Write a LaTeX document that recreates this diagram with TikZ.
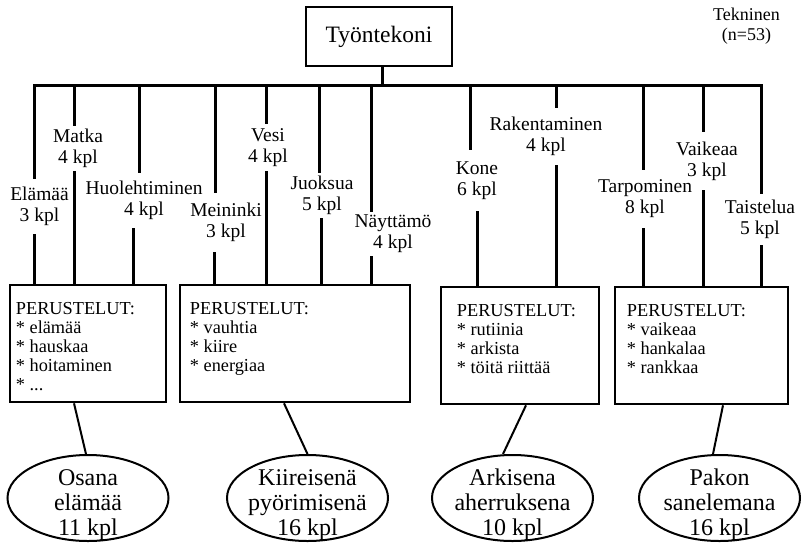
\documentclass[tikz,border=0pt]{standalone}
\usepackage{fontspec}
\setmainfont{Liberation Serif}
\usepackage{tikz}
\usetikzlibrary{positioning, shapes.geometric}

\tikzset{
  stem/.style={line width=3pt, line cap=rect},
  headbox/.style={draw, line width=2.5pt, minimum width=146pt, minimum height=59pt, inner sep=0pt,
    font=\fontsize{23.5}{28}\selectfont},
  reasonbox/.style={draw, line width=2.6pt, inner sep=0pt},
  reasontext/.style={anchor=north west, inner sep=0pt, align=left, font=\fontsize{18.3}{19.2}\selectfont},
  countlabel/.style={inner xsep=0pt, inner ysep=0pt, align=center, font=\fontsize{19.5}{21}\selectfont},
  theme/.style={draw, ellipse, line width=2pt, minimum width=161pt, minimum height=86pt, inner sep=0pt},
  themetext/.style={align=center, inner sep=0pt, yshift=-7pt, font=\fontsize{24}{25}\selectfont},
  link/.style={line width=2pt}
}

\begin{document}
\begin{tikzpicture}[x=1pt, y=-1pt]
  \useasboundingbox (0,0) rectangle (802,544);

  % Top of the tree
  \node[headbox] (boss) at (379,36.5) {Työntekoni};
  \node[align=center, inner sep=0pt, font=\fontsize{18}{20}\selectfont] (group) at (746.5,26) {Tekninen\\(n=53)};

  % Boxes with the reasons
  \node[reasonbox, minimum width=156pt, minimum height=117pt] (b1) at (88,343.5) {};
  \node[reasonbox, minimum width=230pt, minimum height=117pt] (b2) at (295,343.5) {};
  \node[reasonbox, minimum width=158pt, minimum height=117pt] (b3) at (520,345.5) {};
  \node[reasonbox, minimum width=173pt, minimum height=117pt] (b4) at (701.5,345.5) {};

  \node[reasontext] (r1) at ([shift={(7,18)}]b1.north west) {PERUSTELUT:\\* elämää\\* hauskaa\\* hoitaminen\\* ...};
  \node[reasontext] (r2) at ([shift={(11,18)}]b2.north west) {PERUSTELUT:\\* vauhtia\\* kiire\\* energiaa};
  \node[reasontext] (r3) at ([shift={(17,18)}]b3.north west) {PERUSTELUT:\\* rutiinia\\* arkista\\* töitä riittää};
  \node[reasontext] (r4) at ([shift={(13,18)}]b4.north west) {PERUSTELUT:\\* vaikeaa\\* hankalaa\\* rankkaa};

  % Themes
  \node[theme] (o1) at (88,498) {};
  \node[theme] (o2) at (307.5,498) {};
  \node[theme] (o3) at (512.5,498) {};
  \node[theme] (o4) at (719.5,498) {};
  \node[themetext] at (o1) {Osana\\elämää\\11 kpl};
  \node[themetext] at (o2) {Kiireisenä\\pyörimisenä\\16 kpl};
  \node[themetext] at (o3) {Arkisena\\aherruksena\\10 kpl};
  \node[themetext] at (o4) {Pakon\\sanelemana\\16 kpl};

  \draw[link] ([xshift=-14pt]b1.south) -- ([xshift=-2pt]o1.north);
  \draw[link] ([xshift=-11pt]b2.south) -- (o2.north);
  \draw[link] ([xshift=6pt]b3.south) -- ([xshift=-9.5pt]o3.north);
  \draw[link] ([xshift=21.5pt]b4.south) -- ([xshift=-6.5pt]o4.north);

  % Stems with their counts
  \foreach \i/\xt/\xb/\xc/\yc/\h/\bx/\txt in {
      1/34/34/39.5/206.5/57/b1/{Elämää\\3 kpl},
      2/74/74/78/148.5/47/b1/{Matka\\4 kpl},
      3/139/133/144/200.5/57/b1/{Huolehtiminen\\4 kpl},
      4/215/214/226/222.5/61/b2/{Meininki\\3 kpl},
      5/266/266/268/147.5/49/b2/{Vesi\\4 kpl},
      6/319/321/322/195.5/47/b2/{Juoksua\\5 kpl},
      7/371/371/393/234/46/b2/{Näyttämö\\4 kpl},
      8/470/477/477/180.5/63/b3/{Kone\\6 kpl},
      9/556/556/546/136.5/59/b3/{Rakentaminen\\4 kpl},
      10/643/643/645/199/60/b4/{Tarpominen\\8 kpl},
      11/703/703/707/161/60/b4/{Vaikeaa\\3 kpl},
      12/761/761/760/219.5/53/b4/{Taistelua\\5 kpl}} {
    \coordinate (t\i) at (\xt,85);
    \coordinate (s\i) at (\xb,0);
    \node[countlabel, minimum height=\h pt] (lab\i) at (\xc,\yc) {\txt};
    \draw[stem] (t\i) -- (t\i |- lab\i.north);
    \draw[stem] (s\i |- lab\i.south) -- (s\i |- \bx.north);
  }

  % Bus
  \coordinate (root) at ([xshift=3pt]boss.south);
  \draw[stem] (t1) -- (t12);
  \draw[stem] (root) -- (root |- t1);
\end{tikzpicture}
\end{document}
